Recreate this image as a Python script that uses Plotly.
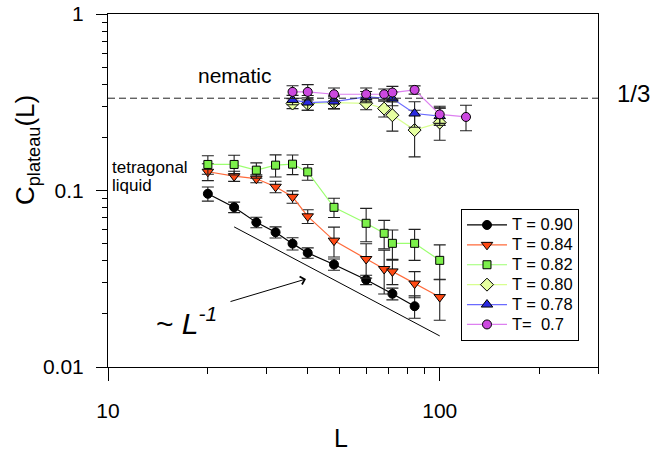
import plotly.graph_objects as go

# ---------------- data ----------------
L_090 = [20, 24, 28, 32, 36, 40, 48, 60, 72, 84]
C_090 = [0.0958, 0.0804, 0.066, 0.058, 0.050, 0.0443, 0.0381, 0.0312, 0.026, 0.0221]
E_090 = [0.0088, 0.0055, 0.0045, 0.0042, 0.0040, 0.0030, 0.0028, 0.0019, 0.0020, 0.0032]

L_084 = [20, 24, 28, 32, 36, 40, 48, 60, 68, 72, 84, 100]
C_084 = [0.1277, 0.1206, 0.1166, 0.105, 0.0921, 0.0714, 0.052, 0.0409, 0.0359, 0.0348, 0.0297, 0.0249]
E_084 = [0.014, 0.008, 0.006, 0.0078, 0.0074, 0.0064, 0.010, 0.009, 0.010, 0.0055, 0.005, 0.0065]

L_082 = [20, 24, 28, 32, 36, 40, 48, 60, 68, 72, 84, 100]
C_082 = [0.1405, 0.1405, 0.1304, 0.1392, 0.141, 0.1274, 0.0803, 0.0652, 0.0572, 0.0502, 0.0502, 0.0402]
E_082 = [0.017, 0.018, 0.013, 0.020, 0.018, 0.013, 0.010, 0.014, 0.0105, 0.0095, 0.010, 0.009]

L_080 = [36, 40, 48, 60, 68, 72, 84, 100]
C_080 = [0.311, 0.310, 0.315, 0.312, 0.291, 0.267, 0.220, 0.2425]
E_080 = [0.020, 0.025, 0.025, 0.025, 0.030, 0.050, 0.065, 0.050]

L_078 = [36, 40, 48, 60, 72, 84, 100]
C_078 = [0.326, 0.315, 0.319, 0.339, 0.332, 0.273, 0.264]
E_078 = [0.020, 0.030, 0.028, 0.025, 0.030, 0.045, 0.030]

L_07 = [36, 40, 48, 60, 68, 72, 84, 100, 120]
C_07 = [0.362, 0.362, 0.351, 0.351, 0.351, 0.359, 0.3715, 0.270, 0.261]
E_07 = [0.030, 0.036, 0.030, 0.030, 0.025, 0.030, 0.020, 0.030, 0.043]

guide_L = [24, 100]
guide_C = [0.0622, 0.015]

NEMATIC = 1 / 3

series_names = ["T = 0.90", "T = 0.84", "T = 0.82", "T = 0.80", "T = 0.78", "T=\u00a0 0.7"]

x_major = [10, 100]
x_major_text = ["10", "100"]
x_minor = [20, 30, 40, 50, 60, 70, 80, 90, 200, 300]
y_major = [0.01, 0.1, 1]
y_major_text = ["0.01", "0.1", "1"]
y_minor = [0.02, 0.03, 0.04, 0.05, 0.06, 0.07, 0.08, 0.09,
           0.2, 0.3, 0.4, 0.5, 0.6, 0.7, 0.8, 0.9]

FONT = "Liberation Sans, Arial, Helvetica, sans-serif"

styles = [
    ("circle", 9, "#000000", "#000000"),
    ("triangle-down", 10, "#ff4a14", "#ff6a3a"),
    ("square", 8, "#7cf04a", "#9cff70"),
    ("diamond", 10, "#e6ffa0", "#d8ff90"),
    ("triangle-up", 10, "#2a2ae0", "#6a6aff"),
    ("circle", 9, "#cc48e0", "#dd80f0"),
]
data = [(L_090, C_090, E_090), (L_084, C_084, E_084), (L_082, C_082, E_082),
        (L_080, C_080, E_080), (L_078, C_078, E_078), (L_07, C_07, E_07)]

fig = go.Figure()

# L^-1 guide line
fig.add_trace(go.Scatter(x=guide_L, y=guide_C, mode="lines",
                         line=dict(color="black", width=1), showlegend=False,
                         hoverinfo="skip"))

for name, (xs, ys, es), (sym, size, fill, lcol) in zip(series_names, data, styles):
    fig.add_trace(go.Scatter(
        x=xs, y=ys, name='<span style="font-size:16.5px">' + name + "</span>",
        mode="lines+markers",
        line=dict(color=lcol, width=1.2),
        marker=dict(symbol=sym, size=size, color=fill,
                    line=dict(color="black", width=1)),
        error_y=dict(type="data", array=es, visible=True,
                     color="#222222", thickness=1.1, width=6),
    ))

fig.add_shape(type="line", xref="paper", yref="y", x0=0, x1=1,
              y0=NEMATIC, y1=NEMATIC,
              line=dict(color="#222222", width=1, dash="7px,4px"))

annos = [
    dict(text="nematic", x=0.259, y=0.827, font=dict(size=21)),
    dict(text="tetragonal", x=0.004, y=0.566, xanchor="left", font=dict(size=17)),
    dict(text="liquid", x=0.004, y=0.515, xanchor="left", font=dict(size=17)),
    dict(text="1/3", x=1.073, y=0.776, font=dict(size=24)),
    dict(text="~ <i>L</i><sup><i>-1</i></sup>", x=0.16, y=0.13, font=dict(size=30)),
    dict(text="C<sub>plateau</sub>(L)", x=-0.165, y=0.615, textangle=-90,
         font=dict(size=26)),
    dict(text="L", x=0.4755, y=-0.201, font=dict(size=25)),
]
for a in annos:
    a.setdefault("xanchor", "center")
    fig.add_annotation(xref="paper", yref="paper", showarrow=False,
                       yanchor="middle", **a)

# arrow pointing at the guide line
fig.add_annotation(xref="paper", yref="paper", x=(306 - 108) / 490,
                   y=(367 - 279) / 353, ax=-77, ay=23, text="",
                   showarrow=True, arrowhead=4, arrowsize=1.6,
                   arrowwidth=1, arrowcolor="black")

fig.update_xaxes(type="log", range=[1, 2.4771], showline=True, linecolor="black",
                 linewidth=1, mirror=True, showgrid=False, zeroline=False,
                 automargin=False, ticklabeloverflow="allow",
                 tickmode="array", tickvals=x_major, ticktext=x_major_text,
                 ticks="outside", ticklen=13, tickcolor="black", tickwidth=1,
                 ticklabelstandoff=12,
                 tickfont=dict(size=21, color="black"),
                 minor=dict(tickmode="array", tickvals=x_minor, ticks="outside",
                            ticklen=6, tickcolor="black", tickwidth=1,
                            showgrid=False))
fig.update_yaxes(type="log", range=[-2, 0], showline=True, linecolor="black",
                 linewidth=1, mirror=True, showgrid=False, zeroline=False,
                 automargin=False, ticklabeloverflow="allow",
                 tickmode="array", tickvals=y_major, ticktext=y_major_text,
                 ticks="outside", ticklen=11, tickcolor="black", tickwidth=1,
                 ticklabelstandoff=8,
                 tickfont=dict(size=21, color="black"),
                 minor=dict(tickmode="array", tickvals=y_minor, ticks="outside",
                            ticklen=5, tickcolor="black", tickwidth=1,
                            showgrid=False))

fig.update_layout(
    width=669, height=455,
    margin=dict(l=108, r=71, t=14, b=88),
    paper_bgcolor="white", plot_bgcolor="white",
    font=dict(family=FONT, color="black"),
    hovermode=False,
    legend=dict(x=0.7204, y=0.4476, xanchor="left", yanchor="top",
                bgcolor="white", bordercolor="black", borderwidth=1,
                itemwidth=40,
                font=dict(size=13, family=FONT), tracegroupgap=0),
)

fig.write_html("out.html",
               config={"displayModeBar": False},
               post_script="document.body.style.margin='0px';")
